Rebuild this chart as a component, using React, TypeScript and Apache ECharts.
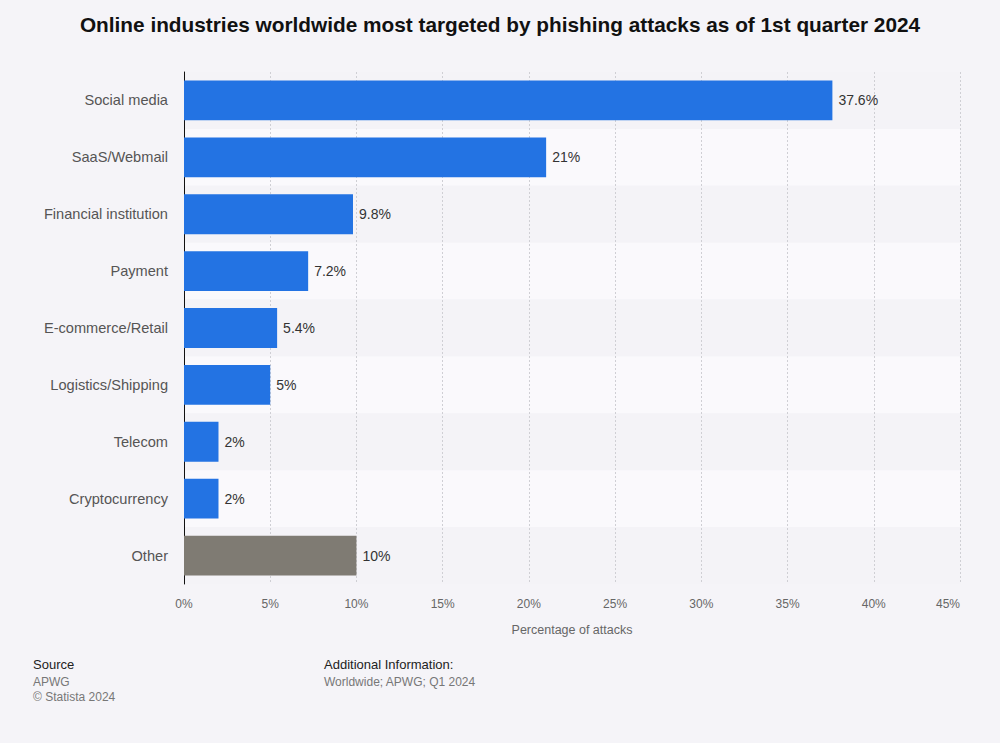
import React, { useEffect, useRef } from "react";
import * as echarts from "echarts";

const categories = [
  "Social media",
  "SaaS/Webmail",
  "Financial institution",
  "Payment",
  "E-commerce/Retail",
  "Logistics/Shipping",
  "Telecom",
  "Cryptocurrency",
  "Other",
];
const values = [37.6, 21, 9.8, 7.2, 5.4, 5, 2, 2, 10];
const barColors = ["#2373e3", "#2373e3", "#2373e3", "#2373e3", "#2373e3", "#2373e3", "#2373e3", "#2373e3", "#7f7b73"];

const FONT = "Liberation Sans, Arial, sans-serif";

export default function App() {
  const ref = useRef<HTMLDivElement>(null);
  useEffect(() => {
    if (!ref.current) return;
    const chart = echarts.init(ref.current, undefined, { renderer: "svg" });
    chart.setOption({
      animation: false,
      backgroundColor: "#f5f4f8",
      title: {
        text: "Online industries worldwide most targeted by phishing attacks as of 1st quarter 2024",
        left: "center",
        top: 9,
        textStyle: { fontFamily: FONT, fontSize: 20.8, fontWeight: "bold", color: "#111" },
      },
      grid: { left: 184, right: 40, top: 72, height: 512, containLabel: false },
      xAxis: {
        type: "value",
        min: 0,
        max: 45,
        interval: 5,
        name: "Percentage of attacks",
        nameLocation: "middle",
        nameGap: 39,
        nameTextStyle: { fontFamily: FONT, fontSize: 12.5, color: "#666" },
        axisLine: { show: false },
        axisTick: { show: false },
        axisLabel: {
          formatter: "{value}%",
          fontFamily: FONT,
          fontSize: 12,
          color: "#666",
          margin: 14,
          alignMaxLabel: "right",
        },
        splitLine: { show: true, lineStyle: { color: "#cfcfd4", type: [2, 2], width: 1 } },
      },
      yAxis: {
        type: "category",
        data: categories,
        inverse: true,
        axisLine: { show: true, lineStyle: { color: "#111", width: 1 } },
        axisTick: { show: false },
        axisLabel: { fontFamily: FONT, fontSize: 14.6, color: "#555", margin: 16 },
        splitArea: { show: true, areaStyle: { color: ["#f4f3f7", "#faf9fc"] } },
      },
      series: [
        {
          type: "bar",
          data: values.map((v, i) => ({ value: v, itemStyle: { color: barColors[i] } })),
          barWidth: "70%",
          label: {
            show: true,
            position: "right",
            distance: 6,
            formatter: "{c}%",
            fontFamily: FONT,
            fontSize: 14,
            color: "#333",
          },
        },
      ],
      graphic: [
        { type: "text", left: 33, top: 658, style: { text: "Source", fontFamily: FONT, fontSize: 13, fill: "#222" } },
        { type: "text", left: 33, top: 676, style: { text: "APWG", fontFamily: FONT, fontSize: 12, fill: "#777" } },
        { type: "text", left: 33, top: 691, style: { text: "© Statista 2024", fontFamily: FONT, fontSize: 12, fill: "#777" } },
        { type: "text", left: 324, top: 658, style: { text: "Additional Information:", fontFamily: FONT, fontSize: 13, fill: "#222" } },
        { type: "text", left: 324, top: 676, style: { text: "Worldwide; APWG; Q1 2024", fontFamily: FONT, fontSize: 12, fill: "#777" } },
      ],
    });
    return () => chart.dispose();
  }, []);
  return <div ref={ref} style={{ width: 1000, height: 743, position: "absolute", left: 0, top: 0 }} />;
}
